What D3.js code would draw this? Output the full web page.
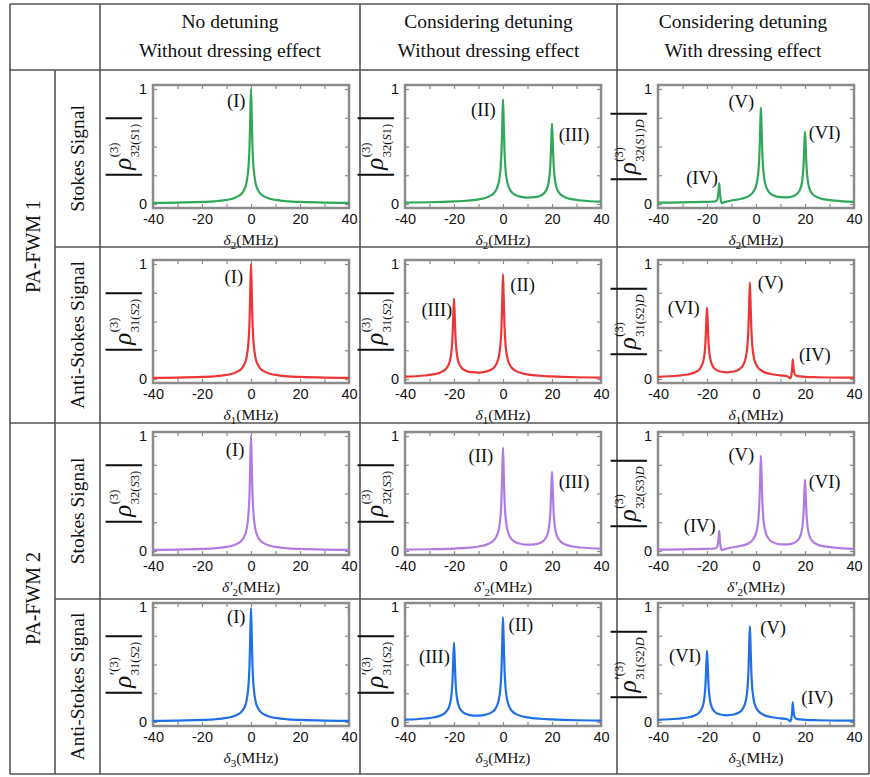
<!DOCTYPE html>
<html>
<head>
<meta charset="utf-8">
<script src="https://cdn.jsdelivr.net/npm/d3@7"></script>
<style>
  body { margin: 0; background: #fff; }
  svg { display: block; }
</style>
</head>
<body>
<svg id="chart" width="870" height="777"></svg>
<script>
// ---- data ----
var columnTitles = [
    ["No detuning", "Without dressing effect"],
    ["Considering detuning", "Without dressing effect"],
    ["Considering detuning", "With dressing effect"]
];
var groupNames = ["PA-FWM 1", "PA-FWM 2"];
var signalNames = ["Stokes Signal", "Anti-Stokes Signal", "Stokes Signal", "Anti-Stokes Signal"];

var xTicks = [-40, -30, -20, -10, 0, 10, 20, 30, 40];
var xTickLabels = [-40, -20, 0, 20, 40];
var yTicks = [0, 0.25, 0.5, 0.75, 1];
var yTickLabels = [0, 1];

// single resonance (no detuning)
var xSingle = [-40, -30, -20, -15, -10, -7, -5, -4, -3, -2, -1.5, -1, -0.6, -0.3, 0, 0.3, 0.6, 1, 1.5, 2, 3, 4, 5, 7, 10, 15, 20, 30, 40];
var yStokes1Plain = [0.009, 0.012, 0.018, 0.023, 0.035, 0.05, 0.07, 0.087, 0.116, 0.17, 0.227, 0.33, 0.5, 0.76, 1.0, 0.76, 0.5, 0.33, 0.227, 0.17, 0.116, 0.087, 0.07, 0.05, 0.035, 0.023, 0.018, 0.012, 0.009];
var yAnti1Plain = [0.009, 0.012, 0.018, 0.023, 0.035, 0.05, 0.07, 0.087, 0.116, 0.17, 0.227, 0.33, 0.5, 0.76, 1.0, 0.76, 0.5, 0.33, 0.227, 0.17, 0.116, 0.087, 0.07, 0.05, 0.035, 0.023, 0.018, 0.012, 0.009];
var yStokes2Plain = [0.009, 0.012, 0.018, 0.023, 0.035, 0.05, 0.07, 0.087, 0.116, 0.17, 0.227, 0.33, 0.5, 0.76, 1.0, 0.76, 0.5, 0.33, 0.227, 0.17, 0.116, 0.087, 0.07, 0.05, 0.035, 0.023, 0.018, 0.012, 0.009];
var yAnti2Plain = [0.009, 0.012, 0.018, 0.023, 0.035, 0.05, 0.07, 0.086, 0.115, 0.168, 0.225, 0.327, 0.495, 0.752, 0.99, 0.752, 0.495, 0.327, 0.225, 0.168, 0.115, 0.086, 0.07, 0.05, 0.035, 0.023, 0.018, 0.012, 0.009];

// detuned pair, peaks at 0 and +20
var xPairRight = [-40, -30, -20, -15, -10, -7, -5, -4, -3, -2, -1.5, -1, -0.6, -0.3, 0, 0.3, 0.6, 1, 1.5, 2, 3, 4, 5, 7, 10, 13, 15, 16, 17, 18, 18.5, 19, 19.4, 19.7, 20, 20.3, 20.6, 21, 21.5, 22, 23, 25, 28, 32, 40];
var yStokes1Detuned = [0.012, 0.015, 0.022, 0.028, 0.040, 0.054, 0.073, 0.088, 0.115, 0.166, 0.215, 0.309, 0.466, 0.696, 0.91, 0.697, 0.467, 0.31, 0.217, 0.169, 0.118, 0.093, 0.079, 0.064, 0.056, 0.059, 0.070, 0.081, 0.100, 0.138, 0.176, 0.248, 0.369, 0.548, 0.70, 0.548, 0.368, 0.246, 0.174, 0.134, 0.095, 0.062, 0.042, 0.030, 0.020];
var yStokes2Detuned = [0.012, 0.015, 0.021, 0.027, 0.039, 0.053, 0.072, 0.087, 0.114, 0.164, 0.213, 0.306, 0.461, 0.689, 0.90, 0.690, 0.462, 0.307, 0.215, 0.167, 0.117, 0.092, 0.078, 0.063, 0.055, 0.058, 0.069, 0.080, 0.099, 0.136, 0.174, 0.245, 0.364, 0.541, 0.69, 0.541, 0.363, 0.243, 0.172, 0.132, 0.094, 0.061, 0.041, 0.030, 0.020];

// detuned pair, peaks at -20 and 0
var xPairLeft = [-40, -32, -28, -25, -23, -22, -21.5, -21, -20.6, -20.3, -20, -19.7, -19.4, -19, -18.5, -18, -17, -16, -15, -13, -10, -7, -5, -4, -3, -2, -1.5, -1, -0.6, -0.3, 0, 0.3, 0.6, 1, 1.5, 2, 3, 4, 5, 7, 10, 15, 20, 30, 40];
var yAnti1Detuned = [0.020, 0.030, 0.042, 0.062, 0.095, 0.134, 0.174, 0.246, 0.368, 0.548, 0.70, 0.548, 0.369, 0.248, 0.176, 0.138, 0.100, 0.081, 0.070, 0.059, 0.056, 0.064, 0.079, 0.093, 0.118, 0.169, 0.217, 0.31, 0.467, 0.697, 0.91, 0.696, 0.466, 0.309, 0.215, 0.166, 0.115, 0.088, 0.073, 0.054, 0.040, 0.028, 0.022, 0.015, 0.012];
var yAnti2Detuned = [0.020, 0.030, 0.041, 0.061, 0.094, 0.132, 0.172, 0.243, 0.363, 0.541, 0.69, 0.541, 0.364, 0.245, 0.174, 0.136, 0.099, 0.080, 0.069, 0.058, 0.055, 0.064, 0.079, 0.093, 0.118, 0.169, 0.217, 0.31, 0.467, 0.697, 0.91, 0.696, 0.466, 0.309, 0.215, 0.166, 0.115, 0.088, 0.073, 0.054, 0.040, 0.028, 0.022, 0.015, 0.012];

// dressed, Stokes: (IV) -15, (V) +2, (VI) +20
var xDressS = [-40, -30, -25, -20, -17, -16, -15.5, -15.2, -15, -14.8, -14.5, -14, -13, -10, -6, -3, -1, 0, 0.5, 1, 1.4, 1.7, 2, 2.3, 2.6, 3, 3.5, 4, 5, 7, 10, 13, 15, 16, 17, 18, 18.5, 19, 19.4, 19.7, 20, 20.3, 20.6, 21, 21.5, 22, 23, 25, 28, 32, 40];
var yStokes1Dressed = [0.011, 0.014, 0.016, 0.019, 0.021, 0.03, 0.07, 0.13, 0.18, 0.12, 0.05, 0.008, 0.014, 0.03, 0.045, 0.068, 0.108, 0.155, 0.202, 0.288, 0.435, 0.65, 0.84, 0.65, 0.436, 0.291, 0.204, 0.158, 0.112, 0.076, 0.059, 0.058, 0.067, 0.076, 0.093, 0.127, 0.161, 0.225, 0.335, 0.496, 0.63, 0.495, 0.334, 0.224, 0.158, 0.123, 0.088, 0.058, 0.040, 0.029, 0.019];
var yStokes2Dressed = [0.011, 0.014, 0.016, 0.019, 0.021, 0.03, 0.068, 0.125, 0.175, 0.115, 0.048, 0.008, 0.014, 0.03, 0.045, 0.067, 0.107, 0.153, 0.2, 0.285, 0.43, 0.643, 0.83, 0.643, 0.431, 0.288, 0.202, 0.156, 0.111, 0.075, 0.058, 0.057, 0.066, 0.075, 0.092, 0.125, 0.158, 0.221, 0.33, 0.488, 0.62, 0.487, 0.329, 0.22, 0.156, 0.121, 0.087, 0.057, 0.040, 0.029, 0.019];

// dressed, anti-Stokes: (VI) -20, (V) -2.5, (IV) +15
var xDressAS = [-40, -32, -28, -25, -23, -22, -21.5, -21, -20.6, -20.3, -20, -19.7, -19.4, -19, -18.5, -18, -17, -15, -12, -9, -7, -6, -5.5, -5, -4.5, -4, -3.5, -3.1, -2.8, -2.5, -2.2, -1.9, -1.5, -1, -0.5, 0.5, 3, 6, 10, 13, 14, 14.5, 14.8, 15, 15.2, 15.5, 16, 17, 20, 25, 30, 40];
var yAnti1Dressed = [0.019, 0.028, 0.039, 0.056, 0.086, 0.122, 0.156, 0.221, 0.329, 0.488, 0.62, 0.488, 0.33, 0.223, 0.16, 0.126, 0.092, 0.067, 0.058, 0.065, 0.082, 0.099, 0.112, 0.132, 0.158, 0.205, 0.29, 0.436, 0.65, 0.84, 0.65, 0.436, 0.289, 0.203, 0.155, 0.108, 0.063, 0.043, 0.031, 0.022, 0.006, 0.04, 0.10, 0.17, 0.12, 0.065, 0.035, 0.025, 0.019, 0.015, 0.013, 0.011];
var yAnti2Dressed = [0.019, 0.028, 0.039, 0.056, 0.086, 0.122, 0.156, 0.221, 0.329, 0.488, 0.62, 0.488, 0.33, 0.223, 0.16, 0.126, 0.092, 0.067, 0.058, 0.065, 0.082, 0.098, 0.111, 0.131, 0.157, 0.204, 0.288, 0.433, 0.646, 0.835, 0.646, 0.433, 0.287, 0.202, 0.154, 0.107, 0.063, 0.043, 0.031, 0.022, 0.006, 0.04, 0.10, 0.17, 0.12, 0.065, 0.035, 0.025, 0.019, 0.015, 0.013, 0.011];

// which arrays go in which cell (rows x columns)
var curveX = [
    [xSingle, xPairRight, xDressS],
    [xSingle, xPairLeft, xDressAS],
    [xSingle, xPairRight, xDressS],
    [xSingle, xPairLeft, xDressAS]
];
var curveY = [
    [yStokes1Plain, yStokes1Detuned, yStokes1Dressed],
    [yAnti1Plain, yAnti1Detuned, yAnti1Dressed],
    [yStokes2Plain, yStokes2Detuned, yStokes2Dressed],
    [yAnti2Plain, yAnti2Detuned, yAnti2Dressed]
];

// peak annotations (text, detuning, height)
var peakNotes = [
    [[["(I)", -6, 0.9]], [["(II)", -8, 0.82], ["(III)", 29, 0.6]], [["(IV)", -22, 0.23], ["(V)", -6, 0.89], ["(VI)", 28, 0.62]]],
    [[["(I)", -7, 0.89]], [["(III)", -27, 0.6], ["(II)", 8, 0.82]], [["(VI)", -29.5, 0.62], ["(V)", 6, 0.84], ["(IV)", 24, 0.21]]],
    [[["(I)", -6.5, 0.88]], [["(II)", -9, 0.83], ["(III)", 29, 0.6]], [["(IV)", -23, 0.22], ["(V)", -6, 0.84], ["(VI)", 28, 0.6]]],
    [[["(I)", -6, 0.92]], [["(III)", -28, 0.57], ["(II)", 7.3, 0.85]], [["(VI)", -29, 0.58], ["(V)", 7, 0.82], ["(IV)", 25, 0.21]]]
];

// axis symbols per row: detuning subscript, primed?
var xAxisSymbols = [["2", false], ["1", false], ["2", true], ["3", false]];
// density-matrix label per row: primed?, indices, signal number
var yAxisSymbols = [[false, "32", "1"], [false, "31", "2"], [false, "32", "3"], [true, "31", "2"]];

var rowColors = ["#2fa85a", "#ee3434", "#b07ce2", "#1f6fe6"];

// ---- drawing ----
var serif = "'Liberation Serif','Times New Roman',serif";
var sans = "'Liberation Sans',Arial,sans-serif";
var svg = d3.select("#chart");

// table grid
var tbl = { left: 10, right: 869, top: 4, bottom: 774, head: 70, c1: 55, c2: 100, c3: 360, c4: 617 };
var rowEdges = [70, 247, 423, 599, 774];
var lineColor = "#555";

function hline(x1, x2, y) {
    svg.append("line").attr("x1", x1).attr("x2", x2).attr("y1", y).attr("y2", y)
        .attr("stroke", lineColor).attr("stroke-width", 1.6);
}
function vline(x, y1, y2) {
    svg.append("line").attr("x1", x).attr("x2", x).attr("y1", y1).attr("y2", y2)
        .attr("stroke", lineColor).attr("stroke-width", 1.6);
}
hline(tbl.left, tbl.right, tbl.top);
hline(tbl.left, tbl.right, tbl.head);
hline(tbl.c1, tbl.right, rowEdges[1]);
hline(tbl.left, tbl.right, rowEdges[2]);
hline(tbl.c1, tbl.right, rowEdges[3]);
hline(tbl.left, tbl.right, tbl.bottom);
vline(tbl.left, tbl.top, tbl.bottom);
vline(tbl.c1, tbl.head, tbl.bottom);
[tbl.c2, tbl.c3, tbl.c4, tbl.right].forEach(function(x) { vline(x, tbl.top, tbl.bottom); });

// column headers
var colCenters = [(tbl.c2 + tbl.c3) / 2, (tbl.c3 + tbl.c4) / 2, (tbl.c4 + tbl.right) / 2];
columnTitles.forEach(function(lines, i) {
    lines.forEach(function(s, j) {
        svg.append("text").attr("x", colCenters[i]).attr("y", 28 + j * 29)
            .attr("text-anchor", "middle").attr("font-family", serif).attr("font-size", 19.5)
            .attr("fill", "#111").text(s);
    });
});

// row headers (rotated)
function rotatedText(x, y, s, size) {
    svg.append("text").attr("transform", "translate(" + x + "," + y + ") rotate(-90)")
        .attr("text-anchor", "middle").attr("dy", "0.35em")
        .attr("font-family", serif).attr("font-size", size).attr("fill", "#111").text(s);
}
groupNames.forEach(function(s, i) {
    rotatedText((tbl.left + tbl.c1) / 2, (rowEdges[i * 2] + rowEdges[i * 2 + 2]) / 2, s, 20);
});
signalNames.forEach(function(s, i) {
    rotatedText((tbl.c1 + tbl.c2) / 2, (rowEdges[i] + rowEdges[i + 1]) / 2, s, 19.5);
});

// panel geometry
var colX0 = [153, 405, 658], plotW = 196;
var rowY0 = [85, 260, 432, 603], plotH = 123;
var frameColor = "#8c8c8c";

// |rho^(3)_{..}| label, built piece by piece and rotated
function yLabel(cx, cy, sym, dressed) {
    var lab = svg.append("g").attr("transform", "translate(" + cx + "," + cy + ") rotate(-90)");
    var inner = lab.append("g");
    var x = 0;
    function put(y, size) {
        return inner.append("text").attr("x", x).attr("y", y)
            .attr("font-family", serif).attr("font-size", size).attr("fill", "#111");
    }
    var b1 = put(2, 40).text("|");
    x += b1.node().getComputedTextLength() + 1;
    var rho = put(0, 25).attr("font-style", "italic").text("ρ");
    x += rho.node().getComputedTextLength() + 0.5;
    var supX = x;
    var sup = put(-13, 12.5);
    if (sym[0]) sup.append("tspan").attr("font-size", 16).attr("dy", 3).text("′");
    sup.append("tspan").attr("dy", sym[0] ? -3 : 0).text("(3)");
    var sub = put(8, 12.5);
    sub.append("tspan").text(sym[1] + "(");
    sub.append("tspan").attr("font-style", "italic").text("S");
    sub.append("tspan").text(sym[2] + ")");
    if (dressed) sub.append("tspan").attr("font-style", "italic").text("D");
    x = supX + Math.max(sup.node().getComputedTextLength(), sub.node().getComputedTextLength()) + 1.5;
    var b2 = put(2, 40).text("|");
    x += b2.node().getComputedTextLength();
    inner.attr("transform", "translate(" + (-x / 2) + ",0)");
}

var line = d3.line().curve(d3.curveMonotoneX);

for (var r = 0; r < 4; r++) {
    for (var c = 0; c < 3; c++) {
        var x0 = colX0[c], y0 = rowY0[r];
        var xScale = d3.scaleLinear().domain([-40, 40]).range([x0, x0 + plotW]);
        var yScale = d3.scaleLinear().domain([-0.035, 1.035]).range([y0 + plotH, y0]);
        var g = svg.append("g");

        var axB = g.append("g").attr("transform", "translate(0," + (y0 + plotH) + ")")
            .call(d3.axisBottom(xScale).tickValues(xTicks).tickSize(-4).tickPadding(6)
                .tickFormat(function(d) { return xTickLabels.indexOf(d) >= 0 ? d : ""; }));
        var axT = g.append("g").attr("transform", "translate(0," + y0 + ")")
            .call(d3.axisTop(xScale).tickValues(xTicks).tickSize(-4).tickFormat(""));
        var axL = g.append("g").attr("transform", "translate(" + x0 + ",0)")
            .call(d3.axisLeft(yScale).tickValues(yTicks).tickSize(-4).tickPadding(6)
                .tickFormat(function(d) { return yTickLabels.indexOf(d) >= 0 ? d : ""; }));
        var axR = g.append("g").attr("transform", "translate(" + (x0 + plotW) + ",0)")
            .call(d3.axisRight(yScale).tickValues(yTicks).tickSize(-4).tickFormat(""));
        [axB, axT, axL, axR].forEach(function(a) {
            a.select(".domain").remove();
            a.selectAll(".tick line").attr("stroke", frameColor).attr("stroke-width", 1.2);
            a.selectAll(".tick text").attr("font-family", sans).attr("font-size", 14.5).attr("fill", "#111");
        });

        g.append("rect").attr("x", x0).attr("y", y0).attr("width", plotW).attr("height", plotH)
            .attr("fill", "none").attr("stroke", frameColor).attr("stroke-width", 2.5);

        var xs = curveX[r][c], ys = curveY[r][c];
        var pts = xs.map(function(v, i) { return [xScale(v), yScale(ys[i])]; });
        g.append("path").attr("d", line(pts)).attr("fill", "none")
            .attr("stroke", rowColors[r]).attr("stroke-width", 2.2).attr("stroke-linejoin", "round");

        peakNotes[r][c].forEach(function(n) {
            g.append("text").attr("x", xScale(n[1])).attr("y", yScale(n[2]))
                .attr("dy", "0.35em").attr("text-anchor", "middle")
                .attr("font-family", serif).attr("font-size", 18.5).attr("fill", "#111").text(n[0]);
        });

        // x axis title: delta_k (MHz)
        var xs2 = xAxisSymbols[r];
        var t = g.append("text").attr("x", x0 + plotW / 2).attr("y", y0 + plotH + 37)
            .attr("text-anchor", "middle").attr("font-family", serif).attr("font-size", 15.5).attr("fill", "#111");
        t.append("tspan").attr("font-style", "italic").text(xs2[1] ? "δ'" : "δ");
        t.append("tspan").attr("font-size", 11).attr("dy", 4).text(xs2[0]);
        t.append("tspan").attr("dy", -4).text("(MHz)");

        yLabel(x0 - 22, y0 + plotH / 2, yAxisSymbols[r], c === 2);
    }
}
</script>
</body>
</html>
